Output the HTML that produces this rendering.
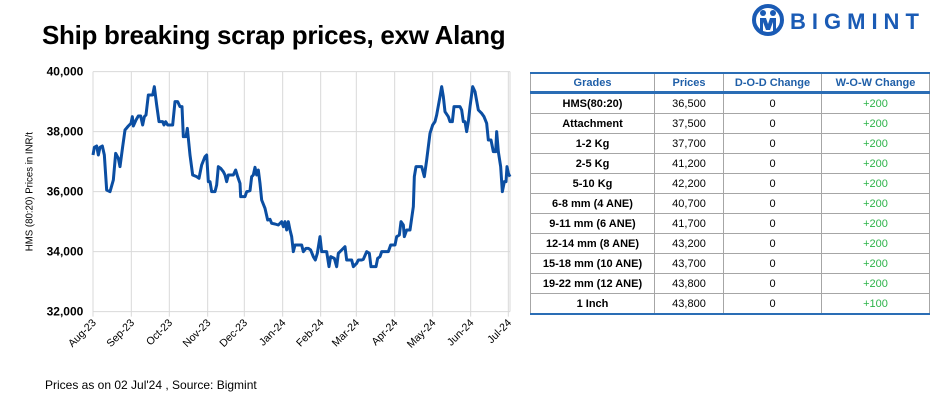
<!DOCTYPE html>
<html><head><meta charset="utf-8"><style>
body{margin:0;width:940px;height:409px;background:#fff;position:relative;font-family:"Liberation Sans",Arial,sans-serif;overflow:hidden}
.t{position:absolute}
table{position:absolute;left:530px;top:72px;width:399px;border-collapse:collapse;font-size:11px;table-layout:fixed}
td,th{border:1px solid #a6a6a6;height:19px;padding:0;text-align:center}
th{color:#1f5fa8;font-weight:bold;border-bottom:3px solid #2a6db5;border-top:2px solid #2a6db5;height:17px}
tr:last-child td{border-bottom:2px solid #2a6db5}
td.g{font-weight:bold}
td.p{color:#2db34a}
</style></head><body>
<div class="t" style="left:42px;top:20px;font-size:26px;font-weight:bold;color:#000;letter-spacing:-0.3px">Ship breaking scrap prices, exw Alang</div>
<svg class="t" style="left:752px;top:4px" width="32" height="32" viewBox="0 0 32 32">
<circle cx="16" cy="16" r="14" fill="none" stroke="#1a5bb5" stroke-width="4"/>
<circle cx="11" cy="9" r="3" fill="#1a5bb5"/><circle cx="21" cy="9" r="3" fill="#1a5bb5"/>
<path d="M8 14h6l2 6 2-6h6v13h-3v-9l-3 8h-4l-3-8v9H8z" fill="#1a5bb5"/>
</svg>
<div class="t" style="left:790px;top:9px;font-size:22px;font-weight:bold;color:#1a5bb5;letter-spacing:6px">BIGMINT</div>
<svg class="t" style="left:0;top:60px" width="530" height="300" viewBox="0 0 1590 900">
<g stroke="#d9d9d9" stroke-width="3">
<line x1="279" y1="215" x2="1530" y2="215"/><line x1="279" y1="395" x2="1530" y2="395"/><line x1="279" y1="575" x2="1530" y2="575"/><line x1="279" y1="35" x2="1530" y2="35"/><line x1="279" y1="755" x2="1530" y2="755"/>
<line x1="394" y1="35" x2="394" y2="770"/><line x1="508" y1="35" x2="508" y2="770"/><line x1="623" y1="35" x2="623" y2="770"/><line x1="733" y1="35" x2="733" y2="770"/><line x1="848" y1="35" x2="848" y2="770"/><line x1="962" y1="35" x2="962" y2="770"/><line x1="1069" y1="35" x2="1069" y2="770"/><line x1="1184" y1="35" x2="1184" y2="770"/><line x1="1298" y1="35" x2="1298" y2="770"/><line x1="1412" y1="35" x2="1412" y2="770"/><line x1="1525" y1="35" x2="1525" y2="770"/><line x1="1530" y1="35" x2="1530" y2="755"/>
<line x1="279" y1="35" x2="279" y2="770"/>
</g>
<polyline fill="none" stroke="#0b4ea2" stroke-width="9" stroke-linejoin="round" points="279,285 283,262 290,258 295,285 300,262 307,258 313,285 320,390 330,395 340,360 347,280 355,295 360,320 368,260 375,210 385,198 393,190 397,170 400,198 408,180 415,168 422,168 428,195 433,170 438,165 445,105 458,105 463,80 470,135 477,185 488,185 492,195 497,185 503,195 518,195 525,125 533,125 540,140 546,140 550,230 558,230 562,205 570,285 578,345 590,350 597,355 605,315 615,290 620,285 625,365 630,365 635,395 645,395 650,375 655,320 662,325 670,335 675,345 680,365 685,345 700,345 707,330 713,350 720,370 722,410 735,410 740,395 750,392 755,350 760,345 765,322 770,345 775,330 780,370 785,420 795,445 803,480 810,478 815,490 825,492 835,495 845,485 850,500 855,485 860,510 865,485 870,510 875,530 880,575 885,555 895,555 905,555 910,575 918,565 925,565 932,570 940,590 946,600 952,580 960,530 965,575 975,575 980,575 987,620 992,590 1003,595 1010,620 1015,580 1025,570 1035,560 1040,600 1055,600 1060,620 1070,610 1075,600 1085,600 1090,598 1100,575 1108,580 1113,620 1128,620 1133,595 1140,590 1145,575 1165,575 1172,555 1185,555 1190,530 1198,525 1203,485 1210,495 1213,530 1220,510 1230,510 1240,440 1243,350 1248,320 1265,320 1273,350 1280,300 1290,220 1298,195 1305,185 1310,165 1320,110 1325,80 1330,110 1335,155 1345,170 1350,185 1357,185 1362,140 1380,140 1385,150 1390,185 1395,185 1400,215 1405,185 1410,140 1418,80 1425,95 1435,150 1445,160 1452,170 1460,190 1465,240 1473,240 1480,275 1487,275 1490,215 1495,275 1502,320 1507,395 1513,365 1518,365 1521,320 1525,340 1530,350"/>
<g font-size="36" font-weight="bold" text-anchor="end" fill="#000">
<text x="250" y="47">40,000</text><text x="250" y="227">38,000</text><text x="250" y="407">36,000</text><text x="250" y="587">34,000</text><text x="250" y="767">32,000</text>
</g>
<text transform="translate(98,395) rotate(-90)" font-size="29" text-anchor="middle" fill="#000">HMS (80:20) Prices in INR/t</text>
<g font-size="32" text-anchor="end" fill="#000">
<text transform="translate(290,790) rotate(-45)">Aug-23</text><text transform="translate(405,790) rotate(-45)">Sep-23</text><text transform="translate(519,790) rotate(-45)">Oct-23</text><text transform="translate(634,790) rotate(-45)">Nov-23</text><text transform="translate(744,790) rotate(-45)">Dec-23</text><text transform="translate(859,790) rotate(-45)">Jan-24</text><text transform="translate(973,790) rotate(-45)">Feb-24</text><text transform="translate(1080,790) rotate(-45)">Mar-24</text><text transform="translate(1195,790) rotate(-45)">Apr-24</text><text transform="translate(1309,790) rotate(-45)">May-24</text><text transform="translate(1423,790) rotate(-45)">Jun-24</text><text transform="translate(1536,790) rotate(-45)">Jul-24</text>
</g>
</svg>
<table>
<colgroup><col style="width:124px"><col style="width:69px"><col style="width:98px"><col style="width:108px"></colgroup>
<tr><th>Grades</th><th>Prices</th><th>D-O-D Change</th><th>W-O-W Change</th></tr>
<tr><td class="g">HMS(80:20)</td><td>36,500</td><td>0</td><td class="p">+200</td></tr>
<tr><td class="g">Attachment</td><td>37,500</td><td>0</td><td class="p">+200</td></tr>
<tr><td class="g">1-2 Kg</td><td>37,700</td><td>0</td><td class="p">+200</td></tr>
<tr><td class="g">2-5 Kg</td><td>41,200</td><td>0</td><td class="p">+200</td></tr>
<tr><td class="g">5-10 Kg</td><td>42,200</td><td>0</td><td class="p">+200</td></tr>
<tr><td class="g">6-8 mm (4 ANE)</td><td>40,700</td><td>0</td><td class="p">+200</td></tr>
<tr><td class="g">9-11 mm (6 ANE)</td><td>41,700</td><td>0</td><td class="p">+200</td></tr>
<tr><td class="g">12-14 mm (8 ANE)</td><td>43,200</td><td>0</td><td class="p">+200</td></tr>
<tr><td class="g">15-18 mm (10 ANE)</td><td>43,700</td><td>0</td><td class="p">+200</td></tr>
<tr><td class="g">19-22 mm (12 ANE)</td><td>43,800</td><td>0</td><td class="p">+200</td></tr>
<tr><td class="g">1 Inch</td><td>43,800</td><td>0</td><td class="p">+100</td></tr>
</table>
<div class="t" style="left:45px;top:378px;font-size:12px;color:#000">Prices as on 02 Jul'24 , Source: Bigmint</div>
</body></html>
